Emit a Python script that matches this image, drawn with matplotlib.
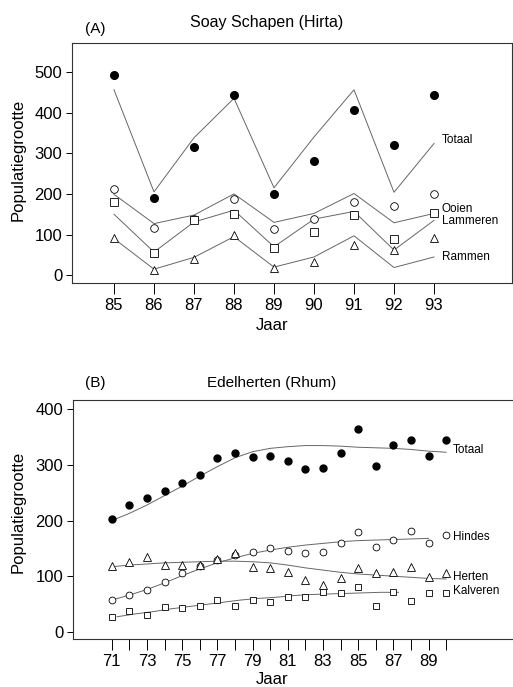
import matplotlib
matplotlib.use("Agg")
import matplotlib.pyplot as plt

plt.rcParams['font.family'] = ['Liberation Sans', 'DejaVu Sans']

# (A) Soay schapen, Hirta
jaar_a = [85, 86, 87, 88, 89, 90, 91, 92, 93]
totaal_a = [493, 190, 316, 442, 199, 282, 407, 321, 444]
ooien_a = [212, 116, 139, 188, 113, 138, 181, 171, 201]
lammeren_a = [181, 54, 135, 150, 67, 107, 148, 88, 152]
rammen_a = [92, 14, 39, 100, 17, 33, 74, 62, 92]
# model lijnen
totaal_a_fit = [456, 205, 338, 435, 215, 340, 456, 204, 324]
ooien_a_fit = [199, 127, 148, 200, 130, 152, 201, 129, 152]
lammeren_a_fit = [150, 57, 131, 160, 70, 138, 157, 62, 135]
rammen_a_fit = [90, 15, 44, 95, 20, 45, 97, 19, 45]

# (B) Edelherten, Rhum
jaar_b = list(range(71, 91))
totaal_b = [203, 228, 240, 253, 268, 282, 313, 321, 314, 317,
            307, 293, 295, 322, 365, 299, 336, 345, 317, 345]
hindes_b = [57, 66, 76, 89, 105, 119, 129, 138, 143, 151,
            146, 141, 143, 159, 179, 153, 165, 181, 159, 174]
herten_b = [118, 125, 134, 121, 120, 121, 131, 141, 117, 115,
            107, 94, 85, 97, 115, 105, 107, 117, 99, 105]
kalveren_b = [27, 38, 30, 45, 43, 46, 58, 46, 58, 54,
              63, 63, 72, 70, 80, 46, 72, 55, 69, 70]
totaal_b_fit = [200, 213, 228, 245, 262, 280, 297, 313, 324, 330,
                333, 335, 335, 334, 332, 331, 330, 328, 325, 323]
hindes_b_fit = [57, 66, 76, 88, 101, 113, 124, 133, 141, 147,
                152, 156, 159, 162, 164, 165, 166, 167, 168]
herten_b_fit = [117, 120, 122, 124, 125, 126, 127, 127, 126, 124,
                120, 115, 111, 107, 104, 102, 100, 98, 96, 95]
kalveren_b_fit = [27, 32, 36, 41, 45, 49, 53, 57, 60, 62,
                  65, 67, 68, 69, 70, 71, 71]

W, H = 513, 687
fig = plt.figure(figsize=(W / 100, H / 100), dpi=100)


def rect(l, t, r, b):
    return [l / W, 1 - b / H, (r - l) / W, (b - t) / H]


lc = '#666666'
ms = 5.5
open_mk = dict(mfc='white', mec='black', mew=0.6, ls='none')

# ---------- paneel A ----------
ax1 = fig.add_axes(rect(72, 43, 512, 283))
ax1.plot(jaar_a, totaal_a_fit, color=lc, lw=0.7)
ax1.plot(jaar_a, ooien_a_fit, color=lc, lw=0.7)
ax1.plot(jaar_a, lammeren_a_fit, color=lc, lw=0.7)
ax1.plot(jaar_a, rammen_a_fit, color=lc, lw=0.7)
ax1.plot(jaar_a, totaal_a, 'o', color='black', ms=ms)
ax1.plot(jaar_a, ooien_a, marker='o', ms=ms, **open_mk)
ax1.plot(jaar_a, lammeren_a, marker='s', ms=ms - 0.3, **open_mk)
ax1.plot(jaar_a, rammen_a, marker='^', ms=ms + 0.5, **open_mk)
ax1.set_xlim(83.95, 94.95)
ax1.set_ylim(-19, 571)
ax1.set_xticks(jaar_a)
ax1.set_yticks([0, 100, 200, 300, 400, 500])
ax1.tick_params(axis='x', length=8, width=0.7, pad=3, labelsize=12)
ax1.tick_params(axis='y', length=4, width=0.7, pad=3, labelsize=12)
for s in ax1.spines.values():
    s.set_linewidth(0.8)
    s.set_color('#333333')
lab = dict(fontsize=8.5, va='center', ha='left')
ax1.text(93.2, 333, 'Totaal', **lab)
ax1.text(93.2, 163, 'Ooien', **lab)
ax1.text(93.2, 134, 'Lammeren', **lab)
ax1.text(93.2, 45, 'Rammen', **lab)
fig.text(267 / W, 1 - 22 / H, 'Soay Schapen (Hirta)', ha='center', va='center', fontsize=11.5)
fig.text(85 / W, 1 - 29 / H, '(A)', ha='left', va='center', fontsize=11)
fig.text(272 / W, 1 - 325 / H, 'Jaar', ha='center', va='center', fontsize=12)
fig.text(18 / W, 1 - 160 / H, 'Populatiegrootte', ha='center', va='center',
         rotation=90, fontsize=12)

# ---------- paneel B ----------
ax2 = fig.add_axes(rect(73, 400, 513, 639))
ax2.plot(jaar_b, totaal_b_fit, color=lc, lw=0.7)
ax2.plot(jaar_b[:len(hindes_b_fit)], hindes_b_fit, color=lc, lw=0.7)
ax2.plot(jaar_b, herten_b_fit, color=lc, lw=0.7)
ax2.plot([j + 0.3 for j in jaar_b[:len(kalveren_b_fit)]], kalveren_b_fit, color=lc, lw=0.7)
ax2.plot(jaar_b, totaal_b, 'o', color='black', ms=ms - 0.5)
ax2.plot(jaar_b, hindes_b, marker='o', ms=ms - 0.6, **open_mk)
ax2.plot(jaar_b, herten_b, marker='^', ms=ms, **open_mk)
ax2.plot(jaar_b, kalveren_b, marker='s', ms=ms - 0.6, **open_mk)
ax2.set_xlim(68.8, 93.8)
ax2.set_ylim(-13, 417)
ax2.set_xticks(jaar_b)
ax2.set_xticklabels([str(j) if j % 2 == 1 else '' for j in jaar_b])
ax2.set_yticks([0, 100, 200, 300, 400])
ax2.tick_params(axis='x', length=8, width=0.7, pad=3, labelsize=12)
ax2.tick_params(axis='y', length=4, width=0.7, pad=3, labelsize=12)
ax2.spines['right'].set_visible(False)
for s in ax2.spines.values():
    s.set_linewidth(0.8)
    s.set_color('#333333')
ax2.text(90.4, 327, 'Totaal', **lab)
ax2.text(90.4, 170, 'Hindes', **lab)
ax2.text(90.4, 98, 'Herten', **lab)
ax2.text(90.4, 73, 'Kalveren', **lab)
fig.text(272 / W, 1 - 383 / H, 'Edelherten (Rhum)', ha='center', va='center', fontsize=11)
fig.text(85 / W, 1 - 383 / H, '(B)', ha='left', va='center', fontsize=11)
fig.text(272 / W, 1 - 680 / H, 'Jaar', ha='center', va='center', fontsize=12)
fig.text(18 / W, 1 - 512 / H, 'Populatiegrootte', ha='center', va='center',
         rotation=90, fontsize=12)

fig.savefig('out.png', dpi=100)
